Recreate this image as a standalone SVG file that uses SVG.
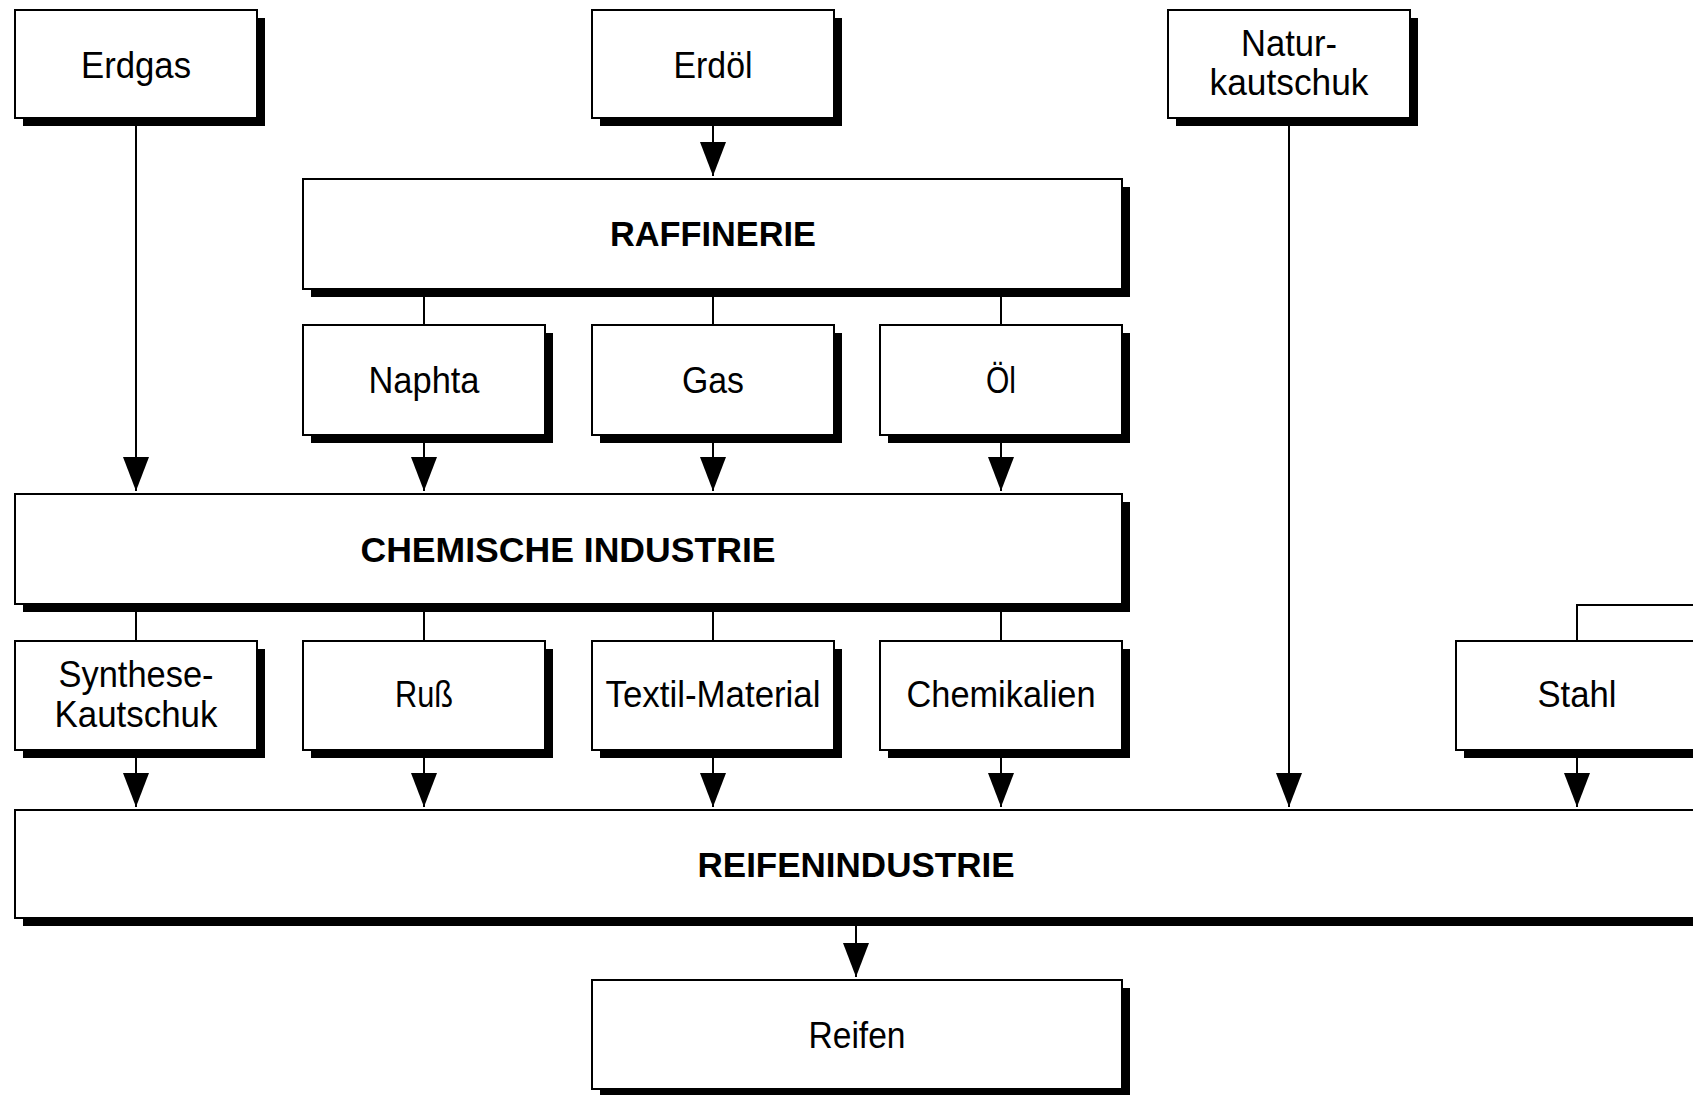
<svg xmlns="http://www.w3.org/2000/svg" width="1693" height="1095" viewBox="0 0 1693 1095">
<style>
.sh{fill:#000;stroke:none}
.bx{fill:#fff;stroke:#000;stroke-width:2}
.ln{fill:none;stroke:#000;stroke-width:2}
.t{font-family:"Liberation Sans",Arial,sans-serif;font-size:37px;fill:#000;text-anchor:middle}
.b{font-family:"Liberation Sans",Arial,sans-serif;font-size:35px;font-weight:bold;fill:#000;text-anchor:middle}
</style>
<defs>
<marker id="ah" markerUnits="userSpaceOnUse" markerWidth="34" markerHeight="26" refX="34" refY="13" orient="auto">
<path d="M0,0 L34,13 L0,26 Z" fill="#000"/>
</marker>
</defs>
<rect width="1693" height="1095" fill="#fff"/>
<g id="connectors">
<path class="ln" d="M136,118 V491" marker-end="url(#ah)"/>
<path class="ln" d="M713,118 V176" marker-end="url(#ah)"/>
<path class="ln" d="M424,289 V325 M713,289 V325 M1001,289 V325"/>
<path class="ln" d="M424,435 V491" marker-end="url(#ah)"/>
<path class="ln" d="M713,435 V491" marker-end="url(#ah)"/>
<path class="ln" d="M1001,435 V491" marker-end="url(#ah)"/>
<path class="ln" d="M136,604 V641 M424,604 V641 M713,604 V641 M1001,604 V641"/>
<path class="ln" d="M136,750 V807" marker-end="url(#ah)"/>
<path class="ln" d="M424,750 V807" marker-end="url(#ah)"/>
<path class="ln" d="M713,750 V807" marker-end="url(#ah)"/>
<path class="ln" d="M1001,750 V807" marker-end="url(#ah)"/>
<path class="ln" d="M1289,118 V807" marker-end="url(#ah)"/>
<path class="ln" d="M1577,750 V807" marker-end="url(#ah)"/>
<path class="ln" d="M1577,641 V605 H1700"/>
<path class="ln" d="M856,918 V977" marker-end="url(#ah)"/>
</g>
<g id="erdgas"><rect class="sh" x="23" y="18" width="242" height="108"/><rect class="bx" x="15" y="10" width="242" height="108"/><text class="t" x="136" y="78" textLength="110" lengthAdjust="spacingAndGlyphs">Erdgas</text></g>
<g id="erdoel"><rect class="sh" x="600" y="18" width="242" height="108"/><rect class="bx" x="592" y="10" width="242" height="108"/><text class="t" x="713" y="78" textLength="79" lengthAdjust="spacingAndGlyphs">Erdöl</text></g>
<g id="naturkautschuk"><rect class="sh" x="1176" y="18" width="242" height="108"/><rect class="bx" x="1168" y="10" width="242" height="108"/><text class="t" x="1289" y="56" textLength="96" lengthAdjust="spacingAndGlyphs">Natur-</text><text class="t" x="1289" y="95" textLength="159" lengthAdjust="spacingAndGlyphs">kautschuk</text></g>
<g id="raffinerie"><rect class="sh" x="311" y="187" width="819" height="110"/><rect class="bx" x="303" y="179" width="819" height="110"/><text class="b" x="713" y="246" textLength="206" lengthAdjust="spacingAndGlyphs">RAFFINERIE</text></g>
<g id="naphta"><rect class="sh" x="311" y="333" width="242" height="110"/><rect class="bx" x="303" y="325" width="242" height="110"/><text class="t" x="424" y="393" textLength="111" lengthAdjust="spacingAndGlyphs">Naphta</text></g>
<g id="gas"><rect class="sh" x="600" y="333" width="242" height="110"/><rect class="bx" x="592" y="325" width="242" height="110"/><text class="t" x="713" y="393" textLength="62" lengthAdjust="spacingAndGlyphs">Gas</text></g>
<g id="oel"><rect class="sh" x="888" y="333" width="242" height="110"/><rect class="bx" x="880" y="325" width="242" height="110"/><text class="t" x="1001" y="393" textLength="30" lengthAdjust="spacingAndGlyphs">Öl</text></g>
<g id="chemische-industrie"><rect class="sh" x="23" y="502" width="1107" height="110"/><rect class="bx" x="15" y="494" width="1107" height="110"/><text class="b" x="568" y="562" textLength="415" lengthAdjust="spacingAndGlyphs">CHEMISCHE INDUSTRIE</text></g>
<g id="synthesekautschuk"><rect class="sh" x="23" y="649" width="242" height="109"/><rect class="bx" x="15" y="641" width="242" height="109"/><text class="t" x="136" y="687" textLength="155" lengthAdjust="spacingAndGlyphs">Synthese-</text><text class="t" x="136" y="727" textLength="163" lengthAdjust="spacingAndGlyphs">Kautschuk</text></g>
<g id="russ"><rect class="sh" x="311" y="649" width="242" height="109"/><rect class="bx" x="303" y="641" width="242" height="109"/><text class="t" x="424" y="707" textLength="58" lengthAdjust="spacingAndGlyphs">Ruß</text></g>
<g id="textil"><rect class="sh" x="600" y="649" width="242" height="109"/><rect class="bx" x="592" y="641" width="242" height="109"/><text class="t" x="713" y="707" textLength="215" lengthAdjust="spacingAndGlyphs">Textil-Material</text></g>
<g id="chemikalien"><rect class="sh" x="888" y="649" width="242" height="109"/><rect class="bx" x="880" y="641" width="242" height="109"/><text class="t" x="1001" y="707" textLength="189" lengthAdjust="spacingAndGlyphs">Chemikalien</text></g>
<g id="stahl"><rect class="sh" x="1464" y="649" width="242" height="109"/><rect class="bx" x="1456" y="641" width="242" height="109"/><text class="t" x="1577" y="707" textLength="79" lengthAdjust="spacingAndGlyphs">Stahl</text></g>
<g id="reifenindustrie"><rect class="sh" x="23" y="818" width="1682" height="108"/><rect class="bx" x="15" y="810" width="1682" height="108"/><text class="b" x="856" y="877" textLength="317" lengthAdjust="spacingAndGlyphs">REIFENINDUSTRIE</text></g>
<g id="reifen"><rect class="sh" x="600" y="988" width="530" height="109"/><rect class="bx" x="592" y="980" width="530" height="109"/><text class="t" x="857" y="1048" textLength="97" lengthAdjust="spacingAndGlyphs">Reifen</text></g>
</svg>
